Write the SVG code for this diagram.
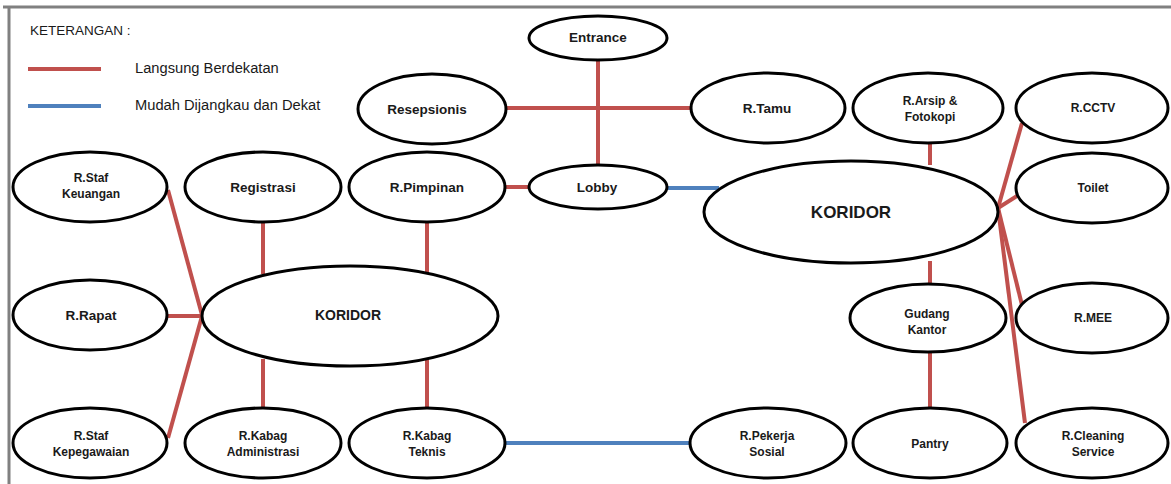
<svg xmlns="http://www.w3.org/2000/svg" width="1171" height="484" viewBox="0 0 1171 484">
<style>
.n{fill:#fff;stroke:#000;stroke-width:3}
.t{font-family:"Liberation Sans",Arial,sans-serif;font-weight:bold;font-size:13.5px;fill:#1a1a1a;text-anchor:middle}
.s{font-size:12px}
.r{stroke:#c0504d;stroke-width:4;fill:none}
.b{stroke:#4f81bd;stroke-width:4;fill:none}
.lg{font-family:"Liberation Sans",Arial,sans-serif;font-size:14.7px;fill:#1a1a1a}
</style>
<rect width="1171" height="484" fill="#fff"/>
<g id="frame" stroke="#808080" stroke-width="3" fill="none">
<line x1="3" y1="7" x2="1171" y2="7"/>
<line x1="9" y1="6" x2="9" y2="484"/>
</g>
<g id="legend">
<text class="lg" style="font-size:13.5px" x="30" y="35">KETERANGAN :</text>
<line class="r" x1="28" y1="69" x2="101" y2="69"/>
<text class="lg" x="135" y="73">Langsung Berdekatan</text>
<line class="b" x1="28" y1="106" x2="101" y2="106"/>
<text class="lg" x="135" y="110">Mudah Dijangkau dan Dekat</text>
</g>
<g id="connectors">
<line class="r" x1="598" y1="60" x2="598" y2="166"/>
<line class="r" x1="505" y1="108" x2="691" y2="108"/>
<line class="r" x1="504" y1="187" x2="530" y2="187"/>
<line class="b" x1="667" y1="188" x2="719" y2="188"/>
<line class="r" x1="930" y1="142" x2="930" y2="165"/>
<line class="r" x1="930" y1="261" x2="930" y2="287"/>
<line class="r" x1="930" y1="351" x2="930" y2="409"/>
<line class="r" x1="998" y1="208" x2="1022" y2="123"/>
<line class="r" x1="998" y1="208" x2="1017" y2="196"/>
<line class="r" x1="998" y1="208" x2="1022" y2="305"/>
<line class="r" x1="998" y1="208" x2="1025" y2="423"/>
<line class="r" x1="168" y1="190" x2="202" y2="315"/>
<line class="r" x1="168" y1="316" x2="202" y2="316"/>
<line class="r" x1="202" y1="316" x2="168" y2="438"/>
<line class="r" x1="263" y1="221" x2="263" y2="274"/>
<line class="r" x1="427" y1="221" x2="427" y2="273"/>
<line class="r" x1="263" y1="359" x2="263" y2="409"/>
<line class="r" x1="427" y1="358" x2="427" y2="409"/>
<line class="b" x1="505" y1="443" x2="691" y2="443"/>
</g>
<g id="entrance"><ellipse class="n" cx="598" cy="38" rx="69" ry="22"/><text class="t" x="598" y="42">Entrance</text></g>
<g id="resepsionis"><ellipse class="n" cx="432" cy="109" rx="74" ry="35"/><text class="t" x="427" y="114">Resepsionis</text></g>
<g id="rtamu"><ellipse class="n" cx="768" cy="108" rx="77" ry="35"/><text class="t" x="767" y="113">R.Tamu</text></g>
<g id="rarsip"><ellipse class="n" cx="928" cy="108" rx="75" ry="35"/><text class="t s" x="930" y="105">R.Arsip &amp;</text><text class="t s" x="930" y="121">Fotokopi</text></g>
<g id="rcctv"><ellipse class="n" cx="1092" cy="108" rx="76" ry="35"/><text class="t s" x="1093" y="112">R.CCTV</text></g>
<g id="toilet"><ellipse class="n" cx="1092" cy="188" rx="76" ry="35"/><text class="t s" x="1093" y="192">Toilet</text></g>
<g id="koridor-kanan"><ellipse class="n" cx="851" cy="212" rx="147" ry="51"/><text class="t" style="font-size:17px" x="851" y="218">KORIDOR</text></g>
<g id="lobby"><ellipse class="n" cx="598" cy="187" rx="69" ry="22"/><text class="t" x="597" y="192">Lobby</text></g>
<g id="rpimpinan"><ellipse class="n" cx="427" cy="187" rx="78" ry="35"/><text class="t" x="427" y="192">R.Pimpinan</text></g>
<g id="registrasi"><ellipse class="n" cx="263" cy="187" rx="78" ry="35"/><text class="t" x="263" y="192">Registrasi</text></g>
<g id="rstaf-keuangan"><ellipse class="n" cx="90" cy="187" rx="77" ry="35"/><text class="t s" x="91" y="182">R.Staf</text><text class="t s" x="91" y="198">Keuangan</text></g>
<g id="rrapat"><ellipse class="n" cx="90" cy="315" rx="77" ry="35"/><text class="t" x="91" y="320">R.Rapat</text></g>
<g id="koridor-kiri"><ellipse class="n" cx="350" cy="316" rx="148" ry="50"/><text class="t" style="font-size:14px" x="348" y="320">KORIDOR</text></g>
<g id="rstaf-kepegawaian"><ellipse class="n" cx="90" cy="443" rx="77" ry="35"/><text class="t s" x="91" y="440">R.Staf</text><text class="t s" x="91" y="456">Kepegawaian</text></g>
<g id="rkabag-administrasi"><ellipse class="n" cx="263" cy="443" rx="78" ry="35"/><text class="t s" x="263" y="440">R.Kabag</text><text class="t s" x="263" y="456">Administrasi</text></g>
<g id="rkabag-teknis"><ellipse class="n" cx="427" cy="443" rx="78" ry="35"/><text class="t s" x="427" y="440">R.Kabag</text><text class="t s" x="427" y="456">Teknis</text></g>
<g id="rpekerja-sosial"><ellipse class="n" cx="768" cy="443" rx="78" ry="35"/><text class="t s" x="767" y="440">R.Pekerja</text><text class="t s" x="767" y="456">Sosial</text></g>
<g id="gudang-kantor"><ellipse class="n" cx="928" cy="318" rx="78" ry="34"/><text class="t s" x="927" y="318">Gudang</text><text class="t s" x="927" y="334">Kantor</text></g>
<g id="pantry"><ellipse class="n" cx="930" cy="443" rx="77" ry="35"/><text class="t s" x="930" y="448">Pantry</text></g>
<g id="rmee"><ellipse class="n" cx="1092" cy="318" rx="76" ry="35"/><text class="t s" x="1093" y="322">R.MEE</text></g>
<g id="rcleaning-service"><ellipse class="n" cx="1092" cy="443" rx="76" ry="35"/><text class="t s" x="1093" y="440">R.Cleaning</text><text class="t s" x="1093" y="456">Service</text></g>
</svg>
